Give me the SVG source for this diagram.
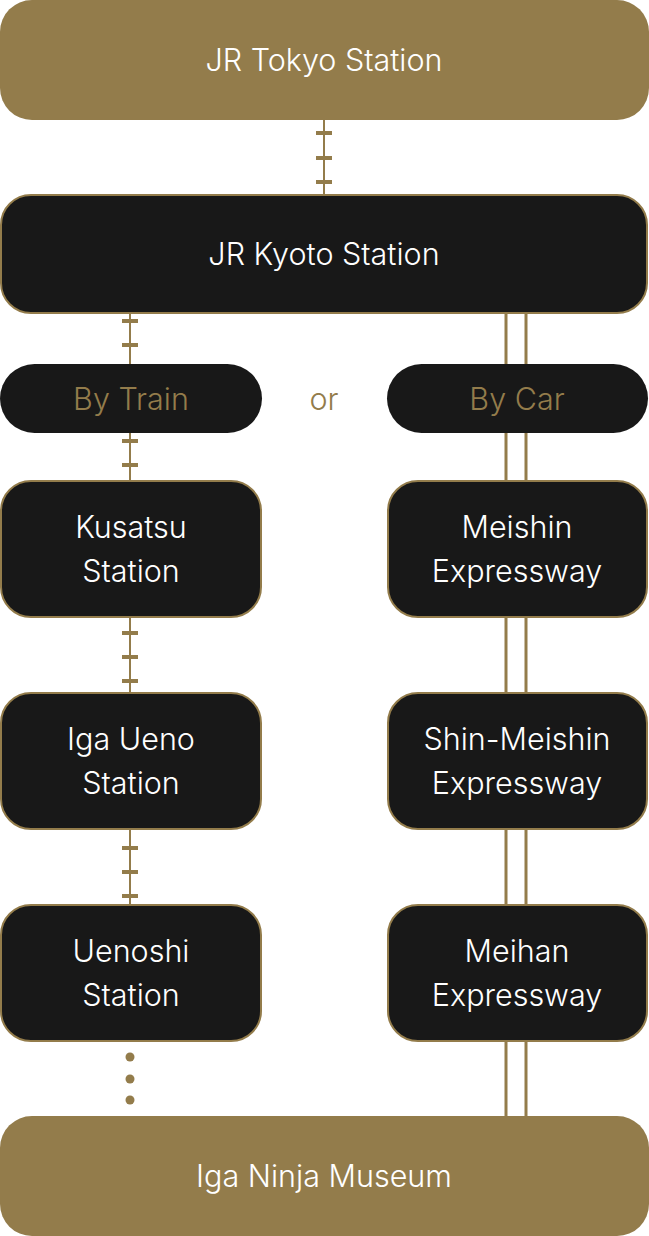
<svg xmlns="http://www.w3.org/2000/svg" width="649" height="1236" viewBox="0 0 649 1236">
<style>
.gold{fill:#937C4B}
.dark{fill:#181818;stroke:#937C4B;stroke-width:2}
.pill{fill:#181818}
.t{font-family:Inter,"Noto Sans","Liberation Sans",sans-serif;font-weight:300;font-size:30.5px;text-anchor:middle;fill:#ffffff}
.tg{fill:#937C4B}
.ln{stroke:#937C4B;stroke-width:2;fill:none}
.dl{stroke:#937C4B;stroke-width:3;fill:none}
.tk{fill:#937C4B}
</style>
<g id="connectors">
<line class="ln" x1="324" y1="120" x2="324" y2="195"/>
<rect class="tk" x="316" y="131" width="16" height="4"/>
<rect class="tk" x="316" y="156" width="16" height="4"/>
<rect class="tk" x="316" y="180" width="16" height="4"/>
<line class="ln" x1="130" y1="313" x2="130" y2="364"/>
<rect class="tk" x="122" y="319" width="16" height="4"/>
<rect class="tk" x="122" y="343" width="16" height="4"/>
<line class="ln" x1="130" y1="433" x2="130" y2="481"/>
<rect class="tk" x="122" y="439" width="16" height="4"/>
<rect class="tk" x="122" y="463" width="16" height="4"/>
<line class="ln" x1="130" y1="617" x2="130" y2="693"/>
<rect class="tk" x="122" y="631" width="16" height="4"/>
<rect class="tk" x="122" y="655" width="16" height="4"/>
<rect class="tk" x="122" y="679" width="16" height="4"/>
<line class="ln" x1="130" y1="829" x2="130" y2="905"/>
<rect class="tk" x="122" y="846" width="16" height="4"/>
<rect class="tk" x="122" y="870" width="16" height="4"/>
<rect class="tk" x="122" y="894" width="16" height="4"/>
<circle class="tk" cx="130" cy="1057" r="4.5"/>
<circle class="tk" cx="130" cy="1079" r="4.5"/>
<circle class="tk" cx="130" cy="1100" r="4.5"/>
<line class="dl" x1="506" y1="313" x2="506" y2="1116"/>
<line class="dl" x1="526" y1="313" x2="526" y2="1116"/>
</g>
<g id="tokyo"><rect class="gold" x="0" y="0" width="649" height="120" rx="32"/><text class="t" x="324" y="71">JR Tokyo Station</text></g>
<g id="kyoto"><rect class="dark" x="1" y="195" width="646" height="118" rx="30"/><text class="t" x="324" y="265">JR Kyoto Station</text></g>
<g id="bytrain"><rect class="pill" x="0" y="364" width="262" height="69" rx="34.5"/><text class="t tg" x="131" y="410">By Train</text></g>
<g id="or"><text class="t tg" x="324" y="410">or</text></g>
<g id="bycar"><rect class="pill" x="387" y="364" width="261" height="69" rx="34.5"/><text class="t tg" x="517" y="410">By Car</text></g>
<g id="kusatsu"><rect class="dark" x="1" y="481" width="260" height="136" rx="30"/><text class="t" x="131" y="538">Kusatsu</text><text class="t" x="131" y="582">Station</text></g>
<g id="meishin"><rect class="dark" x="388" y="481" width="259" height="136" rx="30"/><text class="t" x="517" y="538">Meishin</text><text class="t" x="517" y="582">Expressway</text></g>
<g id="igaueno"><rect class="dark" x="1" y="693" width="260" height="136" rx="30"/><text class="t" x="131" y="750">Iga Ueno</text><text class="t" x="131" y="794">Station</text></g>
<g id="shinmeishin"><rect class="dark" x="388" y="693" width="259" height="136" rx="30"/><text class="t" x="517" y="750">Shin-Meishin</text><text class="t" x="517" y="794">Expressway</text></g>
<g id="uenoshi"><rect class="dark" x="1" y="905" width="260" height="136" rx="30"/><text class="t" x="131" y="962">Uenoshi</text><text class="t" x="131" y="1006">Station</text></g>
<g id="meihan"><rect class="dark" x="388" y="905" width="259" height="136" rx="30"/><text class="t" x="517" y="962">Meihan</text><text class="t" x="517" y="1006">Expressway</text></g>
<g id="museum"><rect class="gold" x="0" y="1116" width="649" height="120" rx="32"/><text class="t" x="324" y="1187">Iga Ninja Museum</text></g>
</svg>
